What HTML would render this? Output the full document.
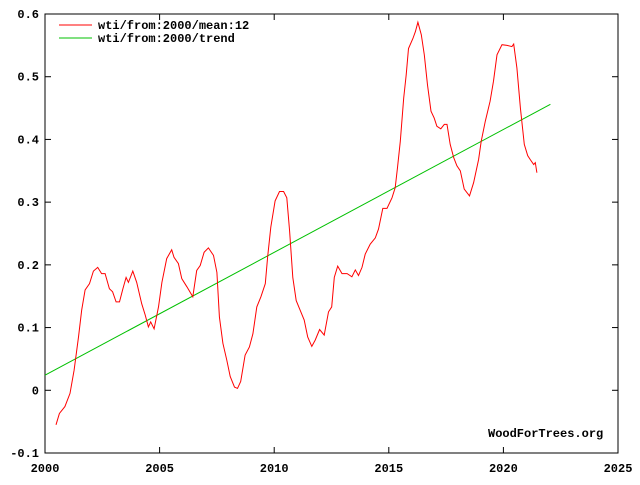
<!DOCTYPE html>
<html><head><meta charset="utf-8"><style>
body{margin:0;background:#fff}
svg text{font-family:"Liberation Mono","DejaVu Sans Mono",monospace;font-weight:bold;font-size:12px}
</style></head><body>
<svg id="chart" width="640" height="480" xmlns="http://www.w3.org/2000/svg">
<rect x="0" y="0" width="640" height="480" fill="#fff"/>
<g id="axes"></g>
<path id="trend" fill="none" stroke="#00c000" stroke-width="1"/>
<path id="series" fill="none" stroke="#ff0000" stroke-width="1"/>
<g>
<line x1="59" y1="25" x2="92" y2="25" stroke="#ff0000"/>
<text x="98" y="29">wti/from:2000/mean:12</text>
<line x1="59" y1="38" x2="92" y2="38" stroke="#00c000"/>
<text x="98" y="42">wti/from:2000/trend</text>
</g>
<text x="488" y="437">WoodForTrees.org</text>
</svg>
<script>
const years=[2000.48,2000.63,2000.87,2001.09,2001.27,2001.46,2001.6,2001.75,2001.94,2002.11,2002.3,2002.47,2002.62,2002.81,2002.95,2003.1,2003.25,2003.4,2003.54,2003.64,2003.83,2004.0,2004.22,2004.37,2004.51,2004.61,2004.76,2004.95,2005.1,2005.31,2005.53,2005.63,2005.82,2005.97,2006.19,2006.45,2006.62,2006.77,2006.94,2007.13,2007.35,2007.5,2007.61,2007.76,2007.93,2008.08,2008.27,2008.4,2008.54,2008.73,2008.92,2009.07,2009.24,2009.42,2009.61,2009.71,2009.85,2010.04,2010.23,2010.41,2010.55,2010.67,2010.81,2010.96,2011.14,2011.31,2011.46,2011.64,2011.79,2011.98,2012.18,2012.37,2012.51,2012.62,2012.77,2012.96,2013.18,2013.39,2013.54,2013.68,2013.83,2013.97,2014.19,2014.41,2014.55,2014.74,2014.92,2015.14,2015.28,2015.38,2015.5,2015.65,2015.76,2015.86,2016.05,2016.16,2016.27,2016.42,2016.55,2016.69,2016.84,2016.98,2017.1,2017.27,2017.42,2017.54,2017.68,2017.83,2017.97,2018.12,2018.29,2018.52,2018.7,2018.92,2019.03,2019.21,2019.42,2019.57,2019.72,2019.94,2020.16,2020.37,2020.45,2020.59,2020.74,2020.91,2021.06,2021.17,2021.32,2021.39,2021.46];
const values=[-0.055,-0.037,-0.026,-0.005,0.032,0.085,0.128,0.16,0.17,0.19,0.196,0.186,0.186,0.162,0.157,0.141,0.141,0.162,0.18,0.172,0.19,0.172,0.138,0.12,0.101,0.109,0.098,0.133,0.172,0.21,0.224,0.212,0.202,0.178,0.165,0.149,0.191,0.199,0.22,0.227,0.215,0.188,0.117,0.075,0.048,0.022,0.005,0.003,0.014,0.056,0.069,0.09,0.133,0.149,0.17,0.212,0.26,0.302,0.317,0.317,0.307,0.254,0.18,0.143,0.127,0.112,0.085,0.07,0.08,0.097,0.088,0.125,0.133,0.18,0.198,0.186,0.186,0.181,0.192,0.183,0.196,0.217,0.233,0.243,0.257,0.29,0.29,0.307,0.323,0.355,0.397,0.466,0.503,0.545,0.561,0.572,0.587,0.567,0.535,0.487,0.445,0.434,0.421,0.417,0.424,0.424,0.392,0.371,0.358,0.35,0.321,0.31,0.331,0.368,0.397,0.429,0.461,0.493,0.535,0.551,0.55,0.548,0.552,0.514,0.45,0.392,0.374,0.368,0.36,0.363,0.347];
const trendYears=[2000.0,2022.05];
const trendValues=[0.024,0.456];
const xTicks=[2000,2005,2010,2015,2020,2025];
const yTicks=[-0.1,0,0.1,0.2,0.3,0.4,0.5,0.6];
const yTickLabels=["-0.1","0","0.1","0.2","0.3","0.4","0.5","0.6"];

const L=45,R=618,T=14,B=453;
const X=v=>L+(v-2000)/25*(R-L);
const Y=v=>B-(v+0.1)/0.7*(B-T);
const ns="http://www.w3.org/2000/svg";
const ax=document.getElementById('axes');
function mk(tag,attrs){const e=document.createElementNS(ns,tag);for(const k in attrs)e.setAttribute(k,attrs[k]);return e;}
const frame=mk('rect',{x:L,y:T,width:R-L,height:B-T,fill:'none',stroke:'#000','stroke-width':1});


ax.appendChild(frame);
xTicks.forEach(t=>{
  const x=X(t);
  ax.appendChild(mk('line',{x1:x,y1:B,x2:x,y2:B-6,stroke:'#000'}));
  ax.appendChild(mk('line',{x1:x,y1:T,x2:x,y2:T+6,stroke:'#000'}));
  const tx=mk('text',{x:x,y:B+19,'text-anchor':'middle'});
  
  
  tx.textContent=t;ax.appendChild(tx);
});
yTicks.forEach((t,i)=>{
  const y=Y(t);
  ax.appendChild(mk('line',{x1:L,y1:y,x2:L+6,y2:y,stroke:'#000'}));
  ax.appendChild(mk('line',{x1:R,y1:y,x2:R-6,y2:y,stroke:'#000'}));
  const tx=mk('text',{x:L-6,y:y+4,'text-anchor':'end'});
  
  
  tx.textContent=yTickLabels[i];ax.appendChild(tx);
});
document.getElementById('series').setAttribute('d',years.map((yr,i)=>(i?'L':'M')+X(yr).toFixed(1)+','+Y(values[i]).toFixed(1)).join(''));
document.getElementById('trend').setAttribute('d',trendYears.map((yr,i)=>(i?'L':'M')+X(yr).toFixed(1)+','+Y(trendValues[i]).toFixed(1)).join(''));
</script>
</body></html>
